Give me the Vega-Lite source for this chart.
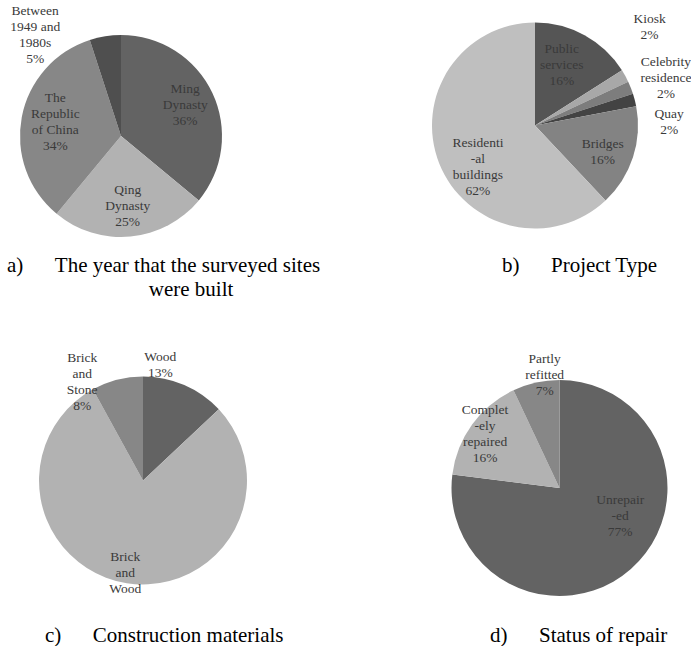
{
  "$schema": "https://vega.github.io/schema/vega-lite/v6.json",
  "padding": 0,
  "background": "white",
  "config": {
    "view": {"stroke": null},
    "text": {"font": "Liberation Serif", "fontSize": 13.5, "lineHeight": 16, "align": "center", "baseline": "middle", "lineBreak": "\n", "color": "#3a3a3a"},
    "title": {"font": "Liberation Serif", "fontSize": 21, "fontWeight": "normal", "color": "#000000", "lineHeight": 24, "orient": "bottom", "frame": "group", "anchor": "start", "align": "left", "baseline": "alphabetic"}
  },
  "datasets": {
    "pa": [
      {"cat": "Ming Dynasty", "v": 36, "o": 1, "lab": "Ming\nDynasty\n36%"},
      {"cat": "Qing Dynasty", "v": 25, "o": 2, "lab": "Qing\nDynasty\n25%"},
      {"cat": "The Republic of China", "v": 34, "o": 3, "lab": "The\nRepublic\nof China\n34%"},
      {"cat": "Between 1949 and 1980s", "v": 5, "o": 4, "lab": "Between\n1949 and\n1980s\n5%"}
    ],
    "pb": [
      {"cat": "Public services", "v": 16, "o": 1, "lab": "Public\nservices\n16%"},
      {"cat": "Kiosk", "v": 2, "o": 2, "lab": "Kiosk\n2%"},
      {"cat": "Celebrity residence", "v": 2, "o": 3, "lab": "Celebrity\nresidence\n2%"},
      {"cat": "Quay", "v": 2, "o": 4, "lab": "Quay\n2%"},
      {"cat": "Bridges", "v": 16, "o": 5, "lab": "Bridges\n16%"},
      {"cat": "Residential buildings", "v": 62, "o": 6, "lab": "Residenti\n-al\nbuildings\n62%"}
    ],
    "pc": [
      {"cat": "Wood", "v": 13, "o": 1, "lab": "Wood\n13%"},
      {"cat": "Brick and Wood", "v": 79, "o": 2, "lab": "Brick\nand\nWood"},
      {"cat": "Brick and Stone", "v": 8, "o": 3, "lab": "Brick\nand\nStone\n8%"}
    ],
    "pd": [
      {"cat": "Unrepaired", "v": 77, "o": 1, "lab": "Unrepair\n-ed\n77%"},
      {"cat": "Completely repaired", "v": 16, "o": 2, "lab": "Complet\n-ely\nrepaired\n16%"},
      {"cat": "Partly refitted", "v": 7, "o": 3, "lab": "Partly\nrefitted\n7%"}
    ]
  },
  "columns": 2,
  "bounds": "flush",
  "align": "each",
  "spacing": {"column": 143, "row": 88},
  "resolve": {"scale": {"color": "independent", "theta": "independent"}},
  "concat": [
    {
      "width": 242, "height": 272,
      "data": {"name": "pa"},
      "title": {"text": ["a)\u00a0\u00a0\u00a0\u00a0\u00a0\u00a0The year that the surveyed sites", "\u200b\u00a0\u00a0\u00a0\u00a0\u00a0\u00a0\u00a0\u00a0\u00a0\u00a0\u00a0\u00a0\u00a0\u00a0\u00a0\u00a0\u00a0\u00a0\u00a0\u00a0\u00a0\u00a0\u00a0\u00a0\u00a0\u00a0\u00a0were built"], "dx": 7, "offset": -17},
      "encoding": {
        "theta": {"field": "v", "type": "quantitative", "stack": true},
        "order": {"field": "o", "type": "quantitative"}
      },
      "layer": [
        {"mark": {"type": "arc", "outerRadius": 101},
         "encoding": {"color": {"field": "cat", "type": "nominal", "legend": null,
           "scale": {"domain": ["Ming Dynasty", "Qing Dynasty", "The Republic of China", "Between 1949 and 1980s"], "range": ["#636363", "#b2b2b2", "#878787", "#4f4f4f"]}}}},
        {"mark": {"type": "text", "radius": 71, "dx": 0, "dy": -17},
         "encoding": {"detail": {"field": "cat", "type": "nominal"},
           "text": {"condition": {"test": "datum.cat === 'Ming Dynasty' || datum.cat === 'Qing Dynasty'", "field": "lab"}, "value": ""}}},
        {"mark": {"type": "text", "radius": 71, "dx": 4, "dy": -25},
         "encoding": {"detail": {"field": "cat", "type": "nominal"},
           "text": {"condition": {"test": "datum.cat === 'The Republic of China'", "field": "lab"}, "value": ""}}},
        {"mark": {"type": "text", "radius": 101, "dx": -70, "dy": -25, "clip": true},
         "encoding": {"detail": {"field": "cat", "type": "nominal"},
           "text": {"condition": {"test": "datum.cat === 'Between 1949 and 1980s'", "field": "lab"}, "value": ""}}}
      ]
    },
    {
      "width": 212, "height": 251,
      "data": {"name": "pb"},
      "title": {"text": "b)\u00a0\u00a0\u00a0\u00a0\u00a0\u00a0Project Type", "dx": 73, "offset": 4},
      "encoding": {
        "theta": {"field": "v", "type": "quantitative", "stack": true},
        "order": {"field": "o", "type": "quantitative"}
      },
      "layer": [
        {"mark": {"type": "arc", "outerRadius": 103},
         "encoding": {"color": {"field": "cat", "type": "nominal", "legend": null,
           "scale": {"domain": ["Public services", "Kiosk", "Celebrity residence", "Quay", "Bridges", "Residential buildings"], "range": ["#555555", "#a8a8a8", "#7d7d7d", "#434343", "#838383", "#bfbfbf"]}}}},
        {"mark": {"type": "text", "radius": 68, "dx": -6, "dy": -17},
         "encoding": {"detail": {"field": "cat", "type": "nominal"},
           "text": {"condition": {"test": "datum.cat === 'Public services'", "field": "lab"}, "value": ""}}},
        {"mark": {"type": "text", "radius": 68, "dx": 3, "dy": -3},
         "encoding": {"detail": {"field": "cat", "type": "nominal"},
           "text": {"condition": {"test": "datum.cat === 'Bridges'", "field": "lab"}, "value": ""}}},
        {"mark": {"type": "text", "radius": 70, "dx": 8, "dy": -8},
         "encoding": {"detail": {"field": "cat", "type": "nominal"},
           "text": {"condition": {"test": "datum.cat === 'Residential buildings'", "field": "lab"}, "value": ""}}},
        {"mark": {"type": "text", "radius": 20, "dx": 97, "dy": -97},
         "encoding": {"detail": {"field": "cat", "type": "nominal"},
           "text": {"condition": {"test": "datum.cat === 'Kiosk'", "field": "lab"}, "value": ""}}},
        {"mark": {"type": "text", "radius": 100, "dx": 38, "dy": -27},
         "encoding": {"detail": {"field": "cat", "type": "nominal"},
           "text": {"condition": {"test": "datum.cat === 'Celebrity residence'", "field": "lab"}, "value": ""}}},
        {"mark": {"type": "text", "radius": 120, "dx": 18, "dy": 18},
         "encoding": {"detail": {"field": "cat", "type": "nominal"},
           "text": {"condition": {"test": "datum.cat === 'Quay'", "field": "lab"}, "value": ""}}}
      ]
    },
    {
      "width": 286, "height": 241,
      "data": {"name": "pc"},
      "title": {"text": "c)\u00a0\u00a0\u00a0\u00a0\u00a0\u00a0Construction materials", "dx": 45, "offset": 24},
      "encoding": {
        "theta": {"field": "v", "type": "quantitative", "stack": true},
        "order": {"field": "o", "type": "quantitative"}
      },
      "layer": [
        {"mark": {"type": "arc", "outerRadius": 104},
         "encoding": {"color": {"field": "cat", "type": "nominal", "legend": null,
           "scale": {"domain": ["Wood", "Brick and Wood", "Brick and Stone"], "range": ["#636363", "#b2b2b2", "#878787"]}}}},
        {"mark": {"type": "text", "radius": 94, "dx": -3, "dy": -16},
         "encoding": {"detail": {"field": "cat", "type": "nominal"},
           "text": {"condition": {"test": "datum.cat === 'Brick and Wood'", "field": "lab"}, "value": ""}}},
        {"mark": {"type": "text", "radius": 104, "dx": -24, "dy": -28},
         "encoding": {"detail": {"field": "cat", "type": "nominal"},
           "text": {"condition": {"test": "datum.cat === 'Wood'", "field": "lab"}, "value": ""}}},
        {"mark": {"type": "text", "radius": 104, "dx": -35, "dy": -22},
         "encoding": {"detail": {"field": "cat", "type": "nominal"},
           "text": {"condition": {"test": "datum.cat === 'Brick and Stone'", "field": "lab"}, "value": ""}}}
      ]
    },
    {
      "width": 261, "height": 256,
      "data": {"name": "pd"},
      "title": {"text": "d)\u00a0\u00a0\u00a0\u00a0\u00a0\u00a0Status of repair", "dx": 61, "offset": 9},
      "encoding": {
        "theta": {"field": "v", "type": "quantitative", "stack": true},
        "order": {"field": "o", "type": "quantitative"}
      },
      "layer": [
        {"mark": {"type": "arc", "outerRadius": 108},
         "encoding": {"color": {"field": "cat", "type": "nominal", "legend": null,
           "scale": {"domain": ["Unrepaired", "Completely repaired", "Partly refitted"], "range": ["#636363", "#b2b2b2", "#878787"]}}}},
        {"mark": {"type": "text", "radius": 92, "dx": 0, "dy": -24},
         "encoding": {"detail": {"field": "cat", "type": "nominal"},
           "text": {"condition": {"test": "datum.cat === 'Completely repaired'", "field": "lab"}, "value": ""}}},
        {"mark": {"type": "text", "radius": 66, "dx": 17, "dy": -38},
         "encoding": {"detail": {"field": "cat", "type": "nominal"},
           "text": {"condition": {"test": "datum.cat === 'Unrepaired'", "field": "lab"}, "value": ""}}},
        {"mark": {"type": "text", "radius": 114, "dx": 10, "dy": -18},
         "encoding": {"detail": {"field": "cat", "type": "nominal"},
           "text": {"condition": {"test": "datum.cat === 'Partly refitted'", "field": "lab"}, "value": ""}}}
      ]
    }
  ]
}
